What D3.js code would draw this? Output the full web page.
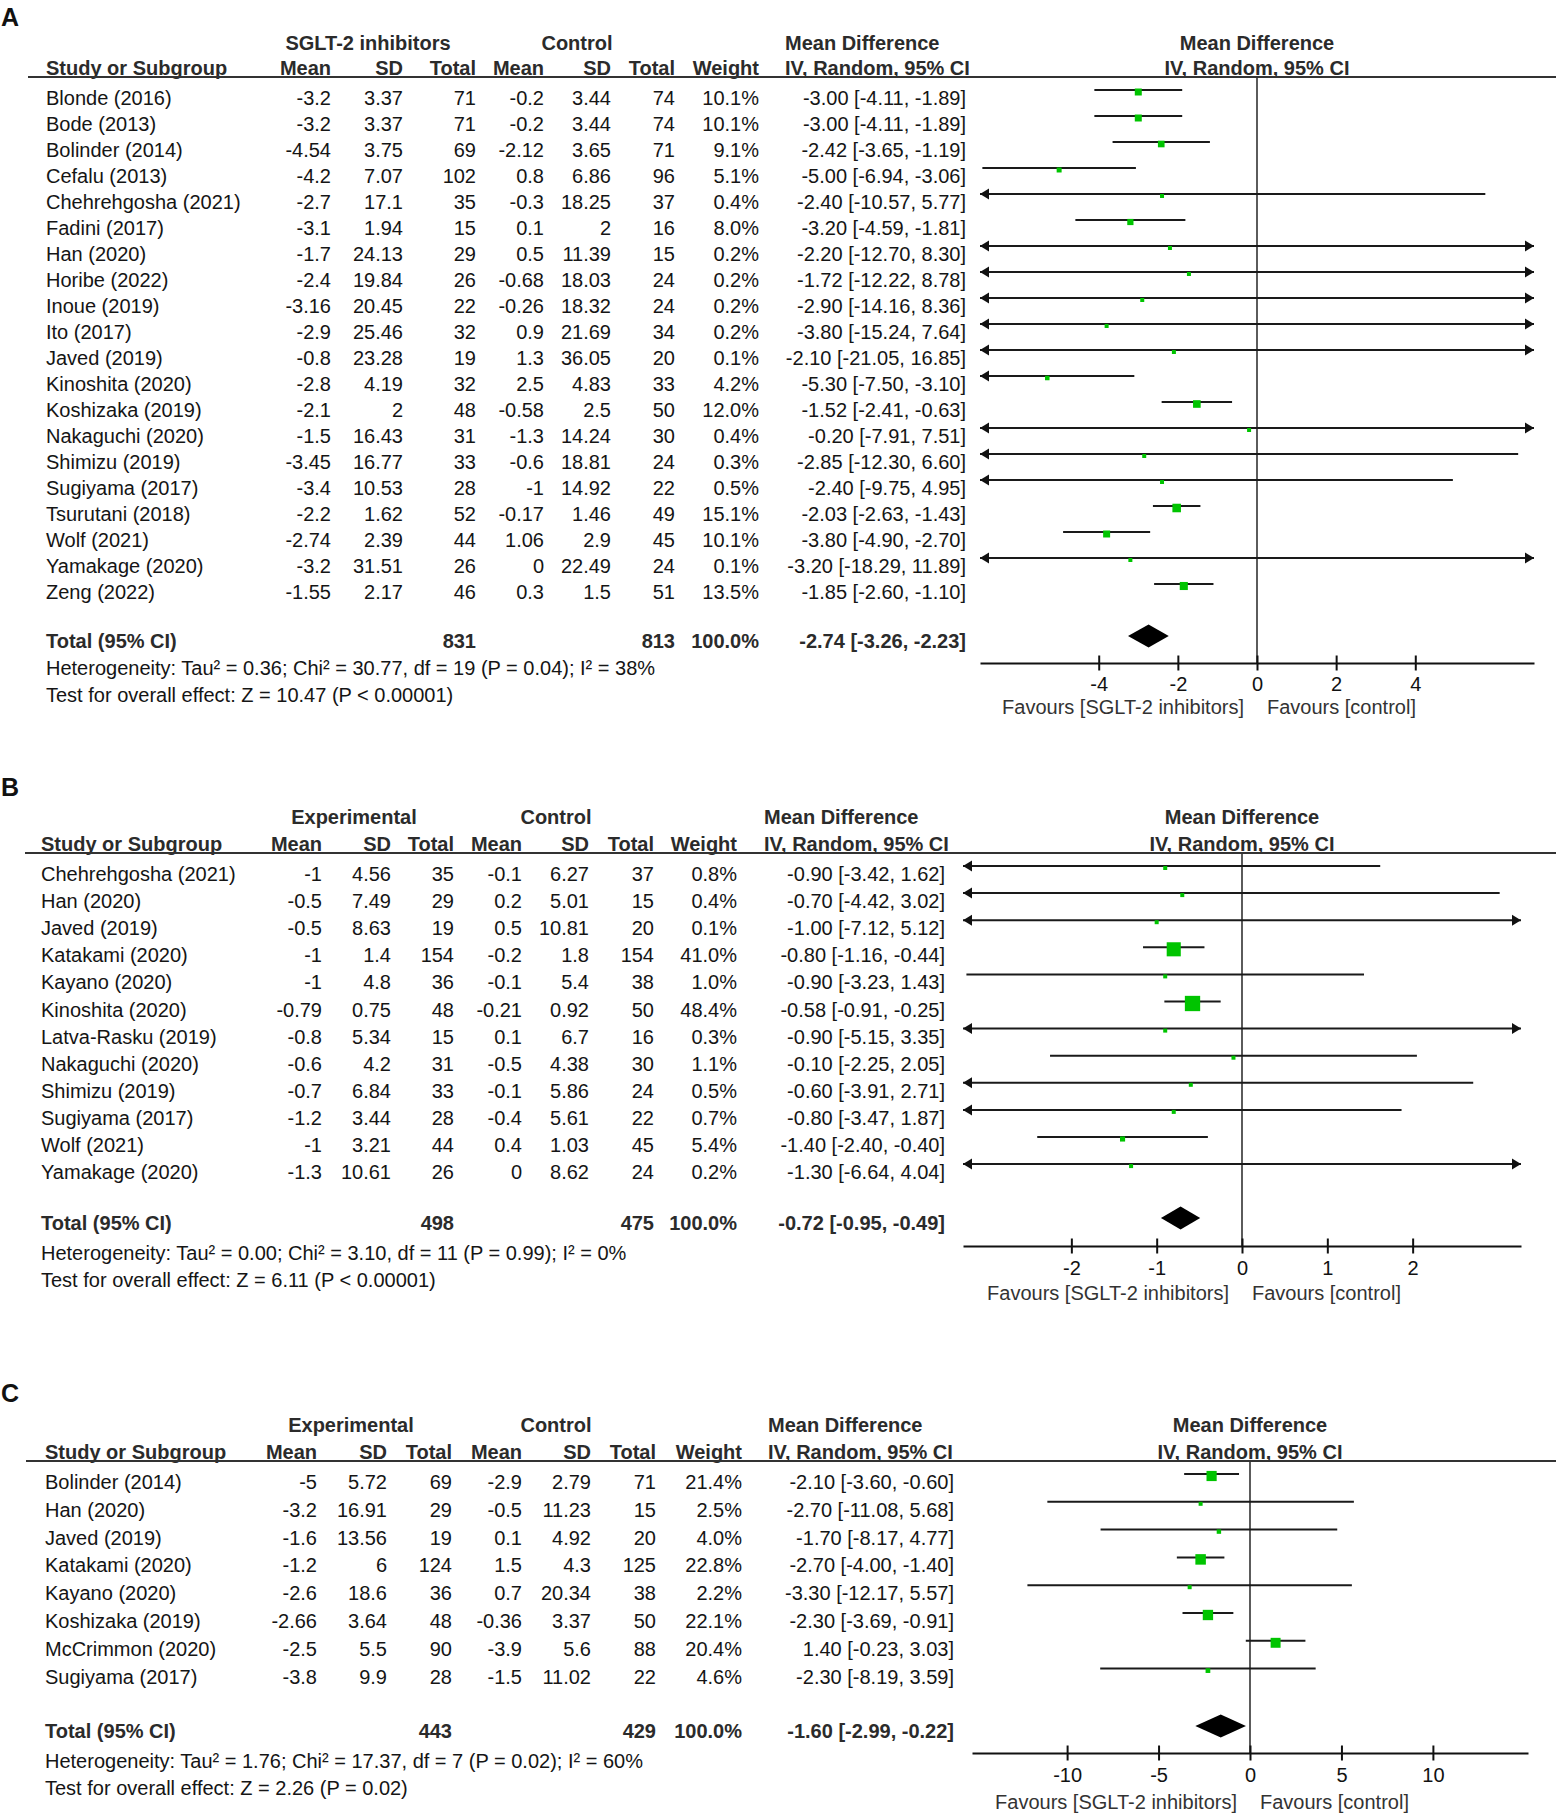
<!DOCTYPE html>
<meta charset="utf-8">
<script src="https://d3js.org/d3.v7.min.js"></script>
<style>
  body { margin: 0; background: #fff; }
  svg text { font-family: "Liberation Sans", Arial, sans-serif; font-size: 20px; fill: #151515; }
</style>
<div id="my_dataviz"></div>
<script>

// ---------- panel A : SGLT-2 inhibitors vs control ----------
const studiesA = ["Blonde (2016)","Bode (2013)","Bolinder (2014)","Cefalu (2013)","Chehrehgosha (2021)","Fadini (2017)","Han (2020)","Horibe (2022)","Inoue (2019)","Ito (2017)","Javed (2019)","Kinoshita (2020)","Koshizaka (2019)","Nakaguchi (2020)","Shimizu (2019)","Sugiyama (2017)","Tsurutani (2018)","Wolf (2021)","Yamakage (2020)","Zeng (2022)"]
const expMeanA = ["-3.2","-3.2","-4.54","-4.2","-2.7","-3.1","-1.7","-2.4","-3.16","-2.9","-0.8","-2.8","-2.1","-1.5","-3.45","-3.4","-2.2","-2.74","-3.2","-1.55"]
const expSdA = ["3.37","3.37","3.75","7.07","17.1","1.94","24.13","19.84","20.45","25.46","23.28","4.19","2","16.43","16.77","10.53","1.62","2.39","31.51","2.17"]
const expNA = [71,71,69,102,35,15,29,26,22,32,19,32,48,31,33,28,52,44,26,46]
const ctlMeanA = ["-0.2","-0.2","-2.12","0.8","-0.3","0.1","0.5","-0.68","-0.26","0.9","1.3","2.5","-0.58","-1.3","-0.6","-1","-0.17","1.06","0","0.3"]
const ctlSdA = ["3.44","3.44","3.65","6.86","18.25","2","11.39","18.03","18.32","21.69","36.05","4.83","2.5","14.24","18.81","14.92","1.46","2.9","22.49","1.5"]
const ctlNA = [74,74,71,96,37,16,15,24,24,34,20,33,50,30,24,22,49,45,24,51]
const weightA = [10.1,10.1,9.1,5.1,0.4,8.0,0.2,0.2,0.2,0.2,0.1,4.2,12.0,0.4,0.3,0.5,15.1,10.1,0.1,13.5]
const mdA = [-3.00,-3.00,-2.42,-5.00,-2.40,-3.20,-2.20,-1.72,-2.90,-3.80,-2.10,-5.30,-1.52,-0.20,-2.85,-2.40,-2.03,-3.80,-3.20,-1.85]
const loA = [-4.11,-4.11,-3.65,-6.94,-10.57,-4.59,-12.70,-12.22,-14.16,-15.24,-21.05,-7.50,-2.41,-7.91,-12.30,-9.75,-2.63,-4.90,-18.29,-2.60]
const hiA = [-1.89,-1.89,-1.19,-3.06,5.77,-1.81,8.30,8.78,8.36,7.64,16.85,-3.10,-0.63,7.51,6.60,4.95,-1.43,-2.70,11.89,-1.10]
const totalNA = [831, 813]
const totalMdA = [-2.74, -3.26, -2.23]
const hetA = "Heterogeneity: Tau² = 0.36; Chi² = 30.77, df = 19 (P = 0.04); I² = 38%"
const testA = "Test for overall effect: Z = 10.47 (P < 0.00001)"
const ticksA = [-4, -2, 0, 2, 4]

// ---------- panel B ----------
const studiesB = ["Chehrehgosha (2021)","Han (2020)","Javed (2019)","Katakami (2020)","Kayano (2020)","Kinoshita (2020)","Latva-Rasku (2019)","Nakaguchi (2020)","Shimizu (2019)","Sugiyama (2017)","Wolf (2021)","Yamakage (2020)"]
const expMeanB = ["-1","-0.5","-0.5","-1","-1","-0.79","-0.8","-0.6","-0.7","-1.2","-1","-1.3"]
const expSdB = ["4.56","7.49","8.63","1.4","4.8","0.75","5.34","4.2","6.84","3.44","3.21","10.61"]
const expNB = [35,29,19,154,36,48,15,31,33,28,44,26]
const ctlMeanB = ["-0.1","0.2","0.5","-0.2","-0.1","-0.21","0.1","-0.5","-0.1","-0.4","0.4","0"]
const ctlSdB = ["6.27","5.01","10.81","1.8","5.4","0.92","6.7","4.38","5.86","5.61","1.03","8.62"]
const ctlNB = [37,15,20,154,38,50,16,30,24,22,45,24]
const weightB = [0.8,0.4,0.1,41.0,1.0,48.4,0.3,1.1,0.5,0.7,5.4,0.2]
const mdB = [-0.90,-0.70,-1.00,-0.80,-0.90,-0.58,-0.90,-0.10,-0.60,-0.80,-1.40,-1.30]
const loB = [-3.42,-4.42,-7.12,-1.16,-3.23,-0.91,-5.15,-2.25,-3.91,-3.47,-2.40,-6.64]
const hiB = [1.62,3.02,5.12,-0.44,1.43,-0.25,3.35,2.05,2.71,1.87,-0.40,4.04]
const totalNB = [498, 475]
const totalMdB = [-0.72, -0.95, -0.49]
const hetB = "Heterogeneity: Tau² = 0.00; Chi² = 3.10, df = 11 (P = 0.99); I² = 0%"
const testB = "Test for overall effect: Z = 6.11 (P < 0.00001)"
const ticksB = [-2, -1, 0, 1, 2]

// ---------- panel C ----------
const studiesC = ["Bolinder (2014)","Han (2020)","Javed (2019)","Katakami (2020)","Kayano (2020)","Koshizaka (2019)","McCrimmon (2020)","Sugiyama (2017)"]
const expMeanC = ["-5","-3.2","-1.6","-1.2","-2.6","-2.66","-2.5","-3.8"]
const expSdC = ["5.72","16.91","13.56","6","18.6","3.64","5.5","9.9"]
const expNC = [69,29,19,124,36,48,90,28]
const ctlMeanC = ["-2.9","-0.5","0.1","1.5","0.7","-0.36","-3.9","-1.5"]
const ctlSdC = ["2.79","11.23","4.92","4.3","20.34","3.37","5.6","11.02"]
const ctlNC = [71,15,20,125,38,50,88,22]
const weightC = [21.4,2.5,4.0,22.8,2.2,22.1,20.4,4.6]
const mdC = [-2.10,-2.70,-1.70,-2.70,-3.30,-2.30,1.40,-2.30]
const loC = [-3.60,-11.08,-8.17,-4.00,-12.17,-3.69,-0.23,-8.19]
const hiC = [-0.60,5.68,4.77,-1.40,5.57,-0.91,3.03,3.59]
const totalNC = [443, 429]
const totalMdC = [-1.60, -2.99, -0.22]
const hetC = "Heterogeneity: Tau² = 1.76; Chi² = 17.37, df = 7 (P = 0.02); I² = 60%"
const testC = "Test for overall effect: Z = 2.26 (P = 0.02)"
const ticksC = [-10, -5, 0, 5, 10]

const colHeads = ["Mean","SD","Total","Mean","SD","Total","Weight"]

// the svg
const svg = d3.select("#my_dataviz")
  .append("svg")
    .attr("width", 1556)
    .attr("height", 1814)

function txt(g, x, y, s, anchor, bold) {
  return g.append("text")
    .attr("x", x).attr("y", y).attr("dy", "0.35em")
    .attr("text-anchor", anchor || "start")
    .style("font-weight", bold ? "bold" : null)
    .style("fill", bold ? "#2b2b2b" : null)
    .text(s)
}

const fmt2 = d3.format(".2f")
const ciText = (m, l, h) => `${fmt2(m)} [${fmt2(l)}, ${fmt2(h)}]`.replace(/−/g, "-")

function drawPanel(p) {
  const g = svg.append("g")
  const n = p.studies.length
  const rowY = i => p.row0 + i * p.step

  // panel letter
  txt(g, 1, p.letterY, p.letter, "start", true).style("font-size", "25px").style("fill", "#111")

  // headers
  txt(g, p.groupCx, p.h1, p.group, "middle", true)
  txt(g, p.ctlCx, p.h1, "Control", "middle", true)
  txt(g, p.mdX, p.h1, "Mean Difference", "start", true)
  txt(g, p.studyX, p.h2, "Study or Subgroup", "start", true)
  colHeads.forEach((h, k) => txt(g, p.cols[k], p.h2, h, "end", true))
  txt(g, p.mdX, p.h2, "IV, Random, 95% CI", "start", true)

  const x = d3.scaleLinear().domain(p.domain).range(p.range)
  const pc = (p.range[0] + p.range[1]) / 2
  txt(g, pc, p.h1, "Mean Difference", "middle", true)
  txt(g, pc, p.h2, "IV, Random, 95% CI", "middle", true)

  g.append("line")
    .attr("x1", p.ruleX).attr("x2", 1556)
    .attr("y1", p.ruleY).attr("y2", p.ruleY)
    .attr("stroke", "#333").attr("stroke-width", 2)

  // study rows
  for (let i = 0; i < n; i++) {
    const y = rowY(i)
    const vals = [p.expMean[i], p.expSd[i], p.expN[i], p.ctlMean[i], p.ctlSd[i], p.ctlN[i], p.weight[i].toFixed(1) + "%"]
    txt(g, p.studyX, y, p.studies[i])
    vals.forEach((v, k) => txt(g, p.cols[k], y, v, "end"))
    txt(g, p.ciX, y, ciText(p.md[i], p.lo[i], p.hi[i]), "end")
  }

  // total row + footnotes
  txt(g, p.studyX, p.totalY, "Total (95% CI)", "start", true)
  txt(g, p.cols[2], p.totalY, p.totalN[0], "end", true)
  txt(g, p.cols[5], p.totalY, p.totalN[1], "end", true)
  txt(g, p.cols[6], p.totalY, "100.0%", "end", true)
  txt(g, p.ciX, p.totalY, ciText(...p.totalMd), "end", true)
  txt(g, p.studyX, p.hetY, p.het)
  txt(g, p.studyX, p.testY, p.test)

  // zero line
  g.append("line")
    .attr("x1", x(0)).attr("x2", x(0))
    .attr("y1", p.ruleY).attr("y2", p.axisY)
    .attr("stroke", "#333").attr("stroke-width", 1.6)

  // confidence intervals
  const [d0, d1] = x.domain()
  for (let i = 0; i < n; i++) {
    const y = rowY(i) - 8
    const l = Math.max(p.lo[i], d0), h = Math.min(p.hi[i], d1)
    g.append("line")
      .attr("x1", x(l)).attr("x2", x(h))
      .attr("y1", y).attr("y2", y)
      .attr("stroke", "#1a1a1a").attr("stroke-width", 2)
    if (p.lo[i] < d0) {
      const a = x(d0)
      g.append("path").attr("d", `M${a},${y}L${a + 9},${y - 5.5}L${a + 9},${y + 5.5}Z`).attr("fill", "#111")
    }
    if (p.hi[i] > d1) {
      const a = x(d1)
      g.append("path").attr("d", `M${a},${y}L${a - 9},${y - 5.5}L${a - 9},${y + 5.5}Z`).attr("fill", "#111")
    }
    const s = Math.max(4, 2.2 * Math.sqrt(p.weight[i]))
    g.append("rect")
      .attr("x", x(p.md[i]) - s / 2).attr("y", y + 2 - s / 2)
      .attr("width", s).attr("height", s)
      .attr("fill", "#00c400")
  }

  // pooled diamond
  const [tm, tl, th] = p.totalMd
  const dy = p.totalY - 5
  g.append("path")
    .attr("d", `M${x(tl)},${dy}L${x(tm)},${dy - 11.5}L${x(th)},${dy}L${x(tm)},${dy + 11.5}Z`)
    .attr("fill", "#000")

  // axis
  const ax = g.append("g")
    .attr("transform", `translate(0,${p.axisY})`)
    .call(d3.axisBottom(x).tickValues(p.ticks).tickSize(0).tickFormat(d => String(d)))
  ax.select(".domain").attr("stroke", "#111").attr("stroke-width", 2)
  ax.selectAll(".tick line").attr("y1", -7.5).attr("y2", 7.5).attr("stroke", "#111").attr("stroke-width", 2)
  ax.selectAll(".tick text").attr("y", p.tickY - p.axisY).attr("dy", "0.35em").style("fill", "#111")

  txt(g, x(0) - 13, p.favY, "Favours [SGLT-2 inhibitors]", "end").style("fill", "#333")
  txt(g, x(0) + 10, p.favY, "Favours [control]", "start").style("fill", "#333")
}

drawPanel({
  letter: "A", letterY: 17, group: "SGLT-2 inhibitors", groupCx: 368, ctlCx: 577, mdX: 785,
  h1: 43, h2: 68, ruleY: 77, ruleX: 28, row0: 98, step: 26,
  totalY: 641, hetY: 668, testY: 695,
  studyX: 46, cols: [331, 403, 476, 544, 611, 675, 759], ciX: 966,
  studies: studiesA, expMean: expMeanA, expSd: expSdA, expN: expNA,
  ctlMean: ctlMeanA, ctlSd: ctlSdA, ctlN: ctlNA, weight: weightA,
  md: mdA, lo: loA, hi: hiA, totalN: totalNA, totalMd: totalMdA, het: hetA, test: testA,
  domain: [-7, 7], range: [980, 1534], ticks: ticksA, axisY: 663, tickY: 684, favY: 707
})

drawPanel({
  letter: "B", letterY: 787, group: "Experimental", groupCx: 354, ctlCx: 556, mdX: 764,
  h1: 817, h2: 844, ruleY: 853, ruleX: 25, row0: 874, step: 27.1,
  totalY: 1223, hetY: 1253, testY: 1280,
  studyX: 41, cols: [322, 391, 454, 522, 589, 654, 737], ciX: 945,
  studies: studiesB, expMean: expMeanB, expSd: expSdB, expN: expNB,
  ctlMean: ctlMeanB, ctlSd: ctlSdB, ctlN: ctlNB, weight: weightB,
  md: mdB, lo: loB, hi: hiB, totalN: totalNB, totalMd: totalMdB, het: hetB, test: testB,
  domain: [-3.27, 3.27], range: [963, 1521], ticks: ticksB, axisY: 1246, tickY: 1268, favY: 1293
})

drawPanel({
  letter: "C", letterY: 1393, group: "Experimental", groupCx: 351, ctlCx: 556, mdX: 768,
  h1: 1425, h2: 1452, ruleY: 1461, ruleX: 26, row0: 1482, step: 27.8,
  totalY: 1731, hetY: 1761, testY: 1788,
  studyX: 45, cols: [317, 387, 452, 522, 591, 656, 742], ciX: 954,
  studies: studiesC, expMean: expMeanC, expSd: expSdC, expN: expNC,
  ctlMean: ctlMeanC, ctlSd: ctlSdC, ctlN: ctlNC, weight: weightC,
  md: mdC, lo: loC, hi: hiC, totalN: totalNC, totalMd: totalMdC, het: hetC, test: testC,
  domain: [-15.2, 15.2], range: [972, 1528], ticks: ticksC, axisY: 1753, tickY: 1775, favY: 1802
})

</script>
